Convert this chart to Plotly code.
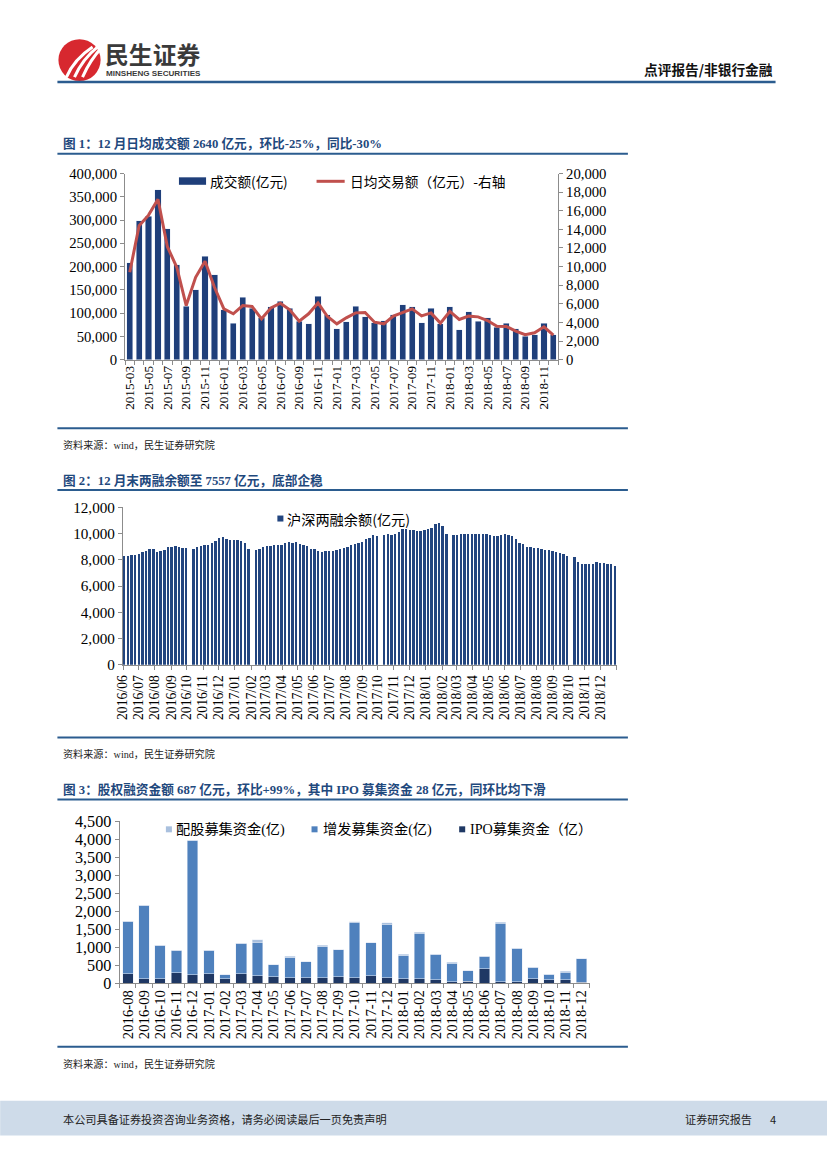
import plotly.graph_objects as go
import pandas as pd

W, H = 827, 1169
# The page is photographed with a slight offset/scale; map reference pixels to figure pixels.
OFF, SC = 7.8, 0.986
def X(p): return ((p - OFF) / SC) / W
def Y(p): return 1 - ((p - OFF) / SC) / H
def F(s): return round(s / SC, 2)

SERIF = "Liberation Serif, Noto Sans CJK SC, serif"
CJK = "Noto Sans CJK SC, sans-serif"
NAVY = "#1F3F7A"
RED = "#C0504D"
AXC = "#8C8C8C"
BLUE_LINE = "#2B5C8F"
TITLE_C = "#1F497D"

# ---------------- Chart 1 data ----------------
months1 = ["2015-03", "2015-04", "2015-05", "2015-06", "2015-07", "2015-08", "2015-09", "2015-10",
           "2015-11", "2015-12", "2016-01", "2016-02", "2016-03", "2016-04", "2016-05", "2016-06",
           "2016-07", "2016-08", "2016-09", "2016-10", "2016-11", "2016-12", "2017-01", "2017-02",
           "2017-03", "2017-04", "2017-05", "2017-06", "2017-07", "2017-08", "2017-09", "2017-10",
           "2017-11", "2017-12", "2018-01", "2018-02", "2018-03", "2018-04", "2018-05", "2018-06",
           "2018-07", "2018-08", "2018-09", "2018-10", "2018-11", "2018-12"]
turnover = [208000, 298000, 308000, 365000, 281000, 204000, 115000, 150000, 222000, 182000,
            107000, 78000, 134000, 111000, 90000, 114000, 126000, 111000, 83000, 77000,
            136000, 97000, 66000, 81000, 115000, 92000, 79000, 84000, 97000, 118000,
            114000, 79000, 111000, 77000, 114000, 64000, 103000, 83000, 90000, 70000,
            78000, 66000, 50000, 54000, 78000, 54000]
daily_avg = [9390, 14390, 15530, 17240, 12140, 9930, 5820, 8850, 10570, 7780,
             5460, 4930, 5820, 5710, 4390, 5570, 6070, 5355, 4140, 4930,
             6100, 4640, 3855, 4500, 5030, 5070, 4030, 3855, 4680, 5100,
             5460, 4710, 5030, 3930, 5180, 4320, 4680, 4600, 4210, 3600,
             3570, 3070, 2680, 2890, 3530, 2640]

# ---------------- Chart 2 data (weekly, Fridays; holiday weeks absent) ----------------
holiday_weeks = ["2016-10-07", "2017-02-03", "2017-10-06", "2018-02-16", "2018-10-05"]
margin_dates = [d.strftime("%Y-%m-%d") for d in pd.date_range("2016-06-03", "2018-12-28", freq="W-FRI")
                if d.strftime("%Y-%m-%d") not in holiday_weeks]
margin_balance = [
    8300, 8320, 8330, 8350,
    8420, 8560, 8700, 8800, 8850,
    8620, 8650, 8780, 8950,
    9000, 9020, 8990, 8900, 8880,
    8850, 8950, 9050,
    9100, 9150, 9250, 9450,
    9650, 9720, 9600, 9520, 9500,
    9480, 9430, 9300, 8800,
    8780, 8850, 8950,
    9050, 9080, 9100, 9120, 9150,
    9250, 9330, 9300, 9380,
    9200, 9100, 9050, 8850,
    8800, 8700, 8620, 8650, 8680,
    8700, 8750, 8820, 8900,
    8950, 9100, 9200, 9280,
    9380, 9550, 9700, 9870, 9800,
    9920, 9950, 9900,
    10000, 10150, 10330, 10350,
    10300, 10250, 10200, 10220, 10250,
    10350, 10450, 10700, 10800,
    10600, 9950, 9900,
    9920, 9950, 10000, 10000, 9950,
    9980, 9990, 9960, 9950,
    9880, 9850, 9820, 9880,
    9930, 9870, 9780, 9550, 9300,
    9200, 9000, 8950, 8920,
    8880, 8800, 8750, 8720, 8700,
    8600, 8550, 8450, 8300,
    8250, 7800, 7700,
    7680, 7680, 7700, 7800, 7750,
    7730, 7700, 7650, 7557,
]
assert len(margin_dates) == len(margin_balance), (len(margin_dates), len(margin_balance))
month_ticks2 = [d.strftime("%Y-%m-%d") for d in pd.date_range("2016-06-01", "2019-01-01", freq="MS")]
month_text2 = [d[:4] + "/" + d[5:7] for d in month_ticks2[:-1]] + [""]

# ---------------- Chart 3 data ----------------
months3 = ["2016-08", "2016-09", "2016-10", "2016-11", "2016-12", "2017-01", "2017-02", "2017-03",
           "2017-04", "2017-05", "2017-06", "2017-07", "2017-08", "2017-09", "2017-10", "2017-11",
           "2017-12", "2018-01", "2018-02", "2018-03", "2018-04", "2018-05", "2018-06", "2018-07",
           "2018-08", "2018-09", "2018-10", "2018-11", "2018-12"]
ipo = [258, 120, 120, 286, 230, 258, 120, 258, 203, 175, 157, 148, 157, 184, 157, 212,
       148, 120, 120, 101, 46, 55, 406, 37, 37, 120, 92, 92, 28]
private_placement = [1457, 2047, 940, 627, 3735, 655, 110, 848, 940, 341, 553, 451, 857, 747, 1539, 913,
                     1493, 645, 1263, 710, 507, 295, 350, 1623, 931, 323, 147, 212, 659]
rights_issue = [0, 0, 0, 0, 0, 0, 0, 0, 65, 0, 46, 0, 46, 0, 10, 0,
                37, 46, 28, 0, 37, 0, 0, 36, 0, 0, 10, 28, 0]

fig = go.Figure()

# Chart 1
fig.add_trace(go.Bar(x=months1, y=turnover, marker_color=NAVY, xaxis="x", yaxis="y", showlegend=False))
fig.add_trace(go.Scatter(x=months1, y=daily_avg, mode="lines", line=dict(color=RED, width=3),
                         xaxis="x", yaxis="y2", showlegend=False))
# Chart 2
fig.add_trace(go.Bar(x=margin_dates, y=margin_balance, marker_color="#22457F", marker_line_width=0,
                     xaxis="x3", yaxis="y3", showlegend=False))
# Chart 3
fig.add_trace(go.Bar(x=months3, y=ipo, marker_color="#1F3864", xaxis="x4", yaxis="y4", showlegend=False))
fig.add_trace(go.Bar(x=months3, y=private_placement, marker_color="#4F81BD", xaxis="x4", yaxis="y4", showlegend=False))
fig.add_trace(go.Bar(x=months3, y=rights_issue, marker_color="#A9C0DE", xaxis="x4", yaxis="y4", showlegend=False))

common_axis = dict(showline=True, linecolor=AXC, linewidth=1, showgrid=False, zeroline=False,
                   ticks="outside", ticklen=4, tickcolor=AXC)

fig.update_layout(
    width=W, height=H, autosize=False,
    margin=dict(l=0, r=0, t=0, b=0),
    paper_bgcolor="white", plot_bgcolor="white",
    barmode="stack", bargap=0.35,
    xaxis=dict(domain=[X(124.3), X(555.5)], anchor="y", type="category",
               tickmode="array", tickvals=months1,
               ticktext=[m if i % 2 == 0 else "" for i, m in enumerate(months1)],
               tickson="boundaries", tickangle=-90,
               tickfont=dict(family=SERIF, size=F(13), color="#000"), **common_axis),
    yaxis=dict(domain=[Y(359.3), Y(172.7)], anchor="x", range=[0, 400000], dtick=50000,
               tickformat=",d", tickfont=dict(family=SERIF, size=F(14.5), color="#000"), **common_axis),
    yaxis2=dict(overlaying="y", side="right", anchor="x", range=[0, 20000], dtick=2000,
                tickformat=",d", tickfont=dict(family=SERIF, size=F(14.5), color="#000"), **common_axis),
    xaxis3=dict(domain=[X(122.3), X(614)], anchor="y3", type="date",
                range=["2016-06-01", "2019-01-01"], tickmode="array", tickvals=month_ticks2,
                ticktext=month_text2, tickangle=-90,
                tickfont=dict(family=SERIF, size=F(13.5), color="#000"), **common_axis),
    yaxis3=dict(domain=[Y(665), Y(507.3)], anchor="x3", range=[0, 12000], dtick=2000,
                tickformat=",d", tickfont=dict(family=SERIF, size=F(15), color="#000"), **common_axis),
    xaxis4=dict(domain=[X(119), X(587)], anchor="y4", type="category",
                tickson="boundaries", tickangle=-90, tickmode="array", tickvals=months3,
                tickfont=dict(family=SERIF, size=F(14.5), color="#000"), **common_axis),
    yaxis4=dict(domain=[Y(984.3), Y(821.7)], anchor="x4", range=[0, 4500], dtick=500,
                tickformat=",d", tickfont=dict(family=SERIF, size=F(16), color="#000"), **common_axis),
)

shapes = []
annotations = []

def hline(y, x0, x1, color=BLUE_LINE, w=2):
    shapes.append(dict(type="line", xref="paper", yref="paper", x0=X(x0), x1=X(x1), y0=Y(y), y1=Y(y),
                       line=dict(color=color, width=w)))

def rect(x0, y0, x1, y1, color, layer="above"):
    shapes.append(dict(type="rect", xref="paper", yref="paper", x0=X(x0), x1=X(x1), y0=Y(y1), y1=Y(y0),
                       fillcolor=color, line=dict(width=0), layer=layer))

def text(x, y, s, size, color="#000", family=CJK, xanchor="left"):
    annotations.append(dict(x=X(x), y=Y(y), xref="paper", yref="paper", text=s, showarrow=False,
                            xanchor=xanchor, yanchor="middle",
                            font=dict(size=F(size), color=color, family=family)))

# Header
shapes.append(dict(type="circle", xref="paper", yref="paper", x0=X(58), x1=X(100), y0=Y(80), y1=Y(38),
                   fillcolor="#D7282F", line=dict(width=0)))
for dx in (0, 8, 16):
    p0 = (66 + dx, 76)
    c = (74 + dx, 58)
    p1 = (92 + dx * 0.6, 46)
    shapes.append(dict(type="path", xref="paper", yref="paper",
                       path=f"M {X(p0[0])},{Y(p0[1])} Q {X(c[0])},{Y(c[1])} {X(p1[0])},{Y(p1[1])}",
                       line=dict(color="white", width=3)))
text(102, 52, "<b>民生证券</b>", 23.5, color="#3A3A3A")
text(103, 72, "<b>MINSHENG SECURITIES</b>", 8, color="#3A3A3A", family="Liberation Sans, Arial")
text(771, 68, "<b>点评报告/非银行金融</b>", 13.5, color="#111", xanchor="right")
hline(81, 57, 772, w=2.5)

# Figure 1
text(61, 143, "<b>图 1：12 月日均成交额 2640 亿元，环比-25%，同比-30%</b>", 12.5, color=TITLE_C, family=SERIF)
hline(153, 57, 625)
rect(178, 176.5, 205, 184, NAVY)
text(207, 180.5, "成交额(亿元)", 13.5)
shapes.append(dict(type="line", xref="paper", yref="paper", x0=X(315), x1=X(343), y0=Y(180.5), y1=Y(180.5),
                   line=dict(color=RED, width=3)))
text(346, 180.5, "日均交易额（亿元）-右轴", 13.5)
hline(428, 57, 625)
text(61, 445, "资料来源：wind，民生证券研究院", 10, color="#222", family=SERIF)

# Figure 2
text(61, 480, "<b>图 2：12 月末两融余额至 7557 亿元，底部企稳</b>", 12.5, color=TITLE_C, family=SERIF)
hline(490, 57, 625)
rect(276, 515.5, 282, 521.5, "#22457F")
text(284, 518.5, "沪深两融余额(亿元)", 14)
hline(738, 57, 625)
text(61, 755, "资料来源：wind，民生证券研究院", 10, color="#222", family=SERIF)

# Figure 3
text(61, 790, "<b>图 3：股权融资金额 687 亿元，环比+99%，其中 IPO 募集资金 28 亿元，同环比均下滑</b>", 12.5,
     color=TITLE_C, family=SERIF)
hline(800, 57, 625)
rect(165, 827, 171, 833, "#A9C0DE")
text(173, 830, "配股募集资金(亿)", 14, family=SERIF)
rect(310, 827, 316, 833, "#4F81BD")
text(319, 830, "增发募集资金(亿)", 14, family=SERIF)
rect(457, 827, 463, 833, "#1F3864")
text(466, 830, "IPO募集资金（亿）", 14, family=SERIF)
hline(1048, 57, 625)
text(61, 1065, "资料来源：wind，民生证券研究院", 10, color="#222", family=SERIF)

# Footer
rect(0, 1102, 827, 1137, "#CEDBE9", layer="below")
text(61, 1120, "本公司具备证券投资咨询业务资格，请务必阅读最后一页免责声明", 11, color="#222")
text(680, 1120, "证券研究报告", 11, color="#222")
text(769, 1120, "4", 11, color="#222", xanchor="center")

fig.update_layout(shapes=shapes, annotations=annotations)
fig.write_html("out.html", config={"displayModeBar": False},
               post_script="document.body.style.margin='0';document.body.style.padding='0';"
                           "document.body.style.overflow='hidden';")
